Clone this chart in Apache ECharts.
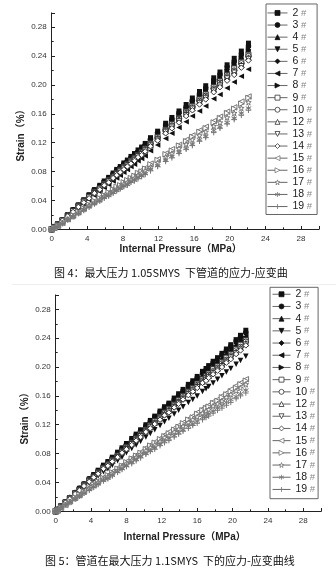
<!DOCTYPE html>
<html><head><meta charset="utf-8">
<script src="https://cdn.jsdelivr.net/npm/echarts@6/dist/echarts.min.js"></script>
<style>html,body{margin:0;padding:0;background:#fff}#c{width:336px;height:571px}</style>
</head><body><div id="c"></div>
<script>
// ---------- data ----------
const seriesNames = ['2#','3#','4#','5#','6#','7#','8#','9#','10#','12#','13#','14#','15#','16#','17#','18#','19#'];
const xTickLabels = [0,4,8,12,16,20,24,28];
const yTickLabels = ['0.00','0.04','0.08','0.12','0.16','0.20','0.24','0.28'];

// Figure 4: internal pressure (MPa)
const pressure1 = [0,0.3,0.7,1.2,1.8,2.4,3.0,3.6,4.2,4.8,5.4,5.9,6.4,6.9,7.3,7.7,8.1,8.5,8.9,9.3,9.7,10.1,10.5,11.1,11.9,12.8,13.5,14.3,15.1,15.8,16.6,17.3,18.2,18.9,19.7,20.5,21.3,22.1];
// Figure 4: strain, in thousandths of a percent
const f4_2  = [0,3,7,13,20,27,34,41,48,55,61,67,72,78,83,87,92,96,101,105,110,114,119,127,136,147,155,164,173,182,191,199,210,218,228,237,247,258];
const f4_3  = [0,3,7,13,20,27,33,40,47,54,60,66,71,77,82,86,91,95,99,103,108,112,117,125,134,145,153,162,170,179,188,196,207,215,225,233,243,254];
const f4_4  = [0,3,7,13,19,26,33,40,47,53,59,65,70,76,80,84,89,93,98,102,107,111,115,123,132,143,150,159,168,177,185,193,204,211,221,230,240,250];
const f4_5  = [0,3,7,12,19,26,32,39,46,53,58,64,69,74,79,83,88,92,96,100,105,109,114,121,130,140,148,157,165,174,182,190,201,208,218,226,236,246];
const f4_6  = [0,3,7,13,20,26,33,40,47,54,59,65,70,76,81,85,90,94,98,102,107,111,116,124,133,143,151,160,169,177,186,194,205,213,222,231,241,252];
const f4_7  = [0,3,6,11,17,23,29,35,41,47,52,58,62,67,71,75,79,83,87,90,95,98,102,109,117,126,133,141,149,157,164,171,181,187,196,204,212,222];
const f4_8  = [0,3,7,12,19,26,33,39,46,53,59,64,69,75,80,84,88,92,97,101,106,109,114,122,131,141,149,157,166,175,183,191,202,209,219,228,237,248];
const f4_9  = [0,3,7,12,19,25,32,39,45,52,57,63,68,73,78,82,86,90,95,99,103,107,112,119,128,138,146,154,163,171,180,187,197,205,214,223,232,242];
const f4_10 = [0,3,6,12,19,25,32,38,45,51,57,62,67,73,77,81,86,89,94,98,102,106,111,118,126,137,144,153,161,169,178,185,195,203,212,220,230,240];
const f4_12 = [0,3,6,12,18,25,31,38,44,51,56,62,67,72,77,80,85,89,93,97,102,105,110,117,126,136,143,152,160,168,177,184,194,202,211,219,228,238];
const f4_13 = [0,3,6,12,18,25,31,38,44,50,56,61,66,71,76,80,84,88,92,96,101,104,109,116,124,135,142,150,158,167,175,182,192,199,209,217,226,236];
const f4_14 = [0,3,6,12,18,24,31,37,43,50,55,61,65,71,75,79,83,87,91,95,100,103,108,115,123,133,140,148,157,165,173,180,190,197,206,214,224,234];
const f4_15 = [0,2,5,9,14,19,24,29,34,39,44,48,51,56,59,62,66,69,72,75,79,82,85,91,97,105,111,117,124,130,137,142,150,156,163,169,177,184];
const f4_16 = [0,2,5,9,14,19,24,29,34,39,43,47,51,55,59,61,65,68,71,74,78,80,84,90,96,104,109,116,122,128,135,140,148,154,161,167,174,182];
const f4_17 = [0,2,5,9,14,18,23,28,33,37,41,46,49,53,56,59,63,65,69,71,75,78,81,86,92,100,105,112,118,124,130,135,143,148,155,161,168,176];
const f4_18 = [0,2,5,8,13,18,22,27,31,36,40,44,47,51,54,57,60,62,66,68,72,74,77,83,88,96,101,107,112,118,124,129,137,142,148,154,161,168];
const f4_19 = [0,2,4,8,13,17,22,26,31,35,39,43,46,50,53,56,59,61,65,67,70,73,76,81,87,94,99,105,111,116,122,127,134,140,146,152,158,165];

// Figure 5: internal pressure (MPa)
const pressure2 = [0,0.2,0.6,1.1,1.6,2.2,2.7,3.2,3.8,4.3,4.8,5.4,5.9,6.4,7.0,7.5,8.0,8.6,9.1,9.6,10.2,10.7,11.2,11.8,12.3,12.8,13.4,13.9,14.4,15.0,15.5,16.0,16.6,17.0,17.3,17.8,18.3,18.8,19.3,19.8,20.4,20.9,21.5];
// Figure 5: strain, in thousandths of a percent
const f5_2  = [0,2,7,13,19,26,32,38,45,51,57,64,69,75,82,88,94,101,107,113,120,126,132,139,145,150,157,163,169,176,181,187,194,198,202,208,213,219,225,231,238,244,251];
const f5_3  = [0,2,7,13,19,26,32,38,45,50,56,63,68,74,81,87,93,100,106,112,119,125,131,138,144,149,155,161,167,174,179,185,192,196,200,206,211,217,223,229,236,242,248];
const f5_4  = [0,2,7,13,18,25,31,37,44,49,55,62,67,73,80,85,91,98,104,110,116,122,128,135,141,146,152,158,164,171,176,181,188,192,196,202,207,212,218,224,231,237,243];
const f5_5  = [0,2,6,11,16,22,27,33,39,44,49,55,59,64,70,75,81,87,92,97,103,108,113,119,124,129,135,140,145,151,155,160,166,170,173,178,183,188,193,198,204,209,215];
const f5_6  = [0,2,7,13,19,25,31,37,44,50,56,63,68,74,80,86,92,99,105,111,118,123,129,136,142,147,154,160,166,172,177,183,190,194,198,204,209,215,221,226,233,239,246];
const f5_7  = [0,2,7,13,18,25,31,37,43,49,55,62,67,72,79,85,91,97,103,109,116,122,127,134,140,145,152,157,163,170,175,180,187,191,195,201,206,211,217,223,230,235,242];
const f5_8  = [0,2,7,12,18,25,31,36,43,49,54,61,66,72,78,84,90,96,102,108,115,120,126,133,138,143,150,156,161,168,173,179,185,189,193,199,203,209,215,221,227,233,240];
const f5_9  = [0,2,7,12,18,25,30,36,43,48,54,60,65,71,77,83,89,95,101,107,113,119,125,131,137,142,148,154,160,166,171,177,183,187,191,197,201,207,213,218,225,231,237];
const f5_10 = [0,2,7,12,18,24,30,36,42,48,53,60,65,70,77,82,88,94,100,106,112,118,123,130,136,140,147,152,158,165,169,175,181,185,189,194,199,205,210,216,223,228,235];
const f5_12 = [0,2,7,12,18,24,30,35,42,47,53,60,64,70,76,82,87,94,100,105,112,117,123,129,135,140,146,152,157,164,168,174,180,184,188,193,198,204,209,215,221,227,233];
const f5_13 = [0,2,6,12,17,24,29,35,41,47,52,59,63,69,75,81,86,93,98,104,110,116,121,128,133,138,144,150,155,162,167,172,178,182,186,191,196,201,207,213,219,224,231];
const f5_14 = [0,2,6,12,17,24,29,35,41,47,52,59,63,69,75,81,86,92,98,103,110,115,121,127,133,137,144,149,155,161,166,171,178,181,185,190,195,200,206,211,218,223,230];
const f5_15 = [0,1,5,9,14,19,23,28,33,37,42,47,50,55,60,64,69,74,78,82,88,92,96,101,106,110,115,119,123,128,132,137,142,145,147,152,155,160,164,169,174,178,183];
const f5_16 = [0,1,5,9,14,19,23,27,32,37,41,46,50,54,59,63,68,73,77,81,86,91,95,100,104,108,113,117,122,127,130,135,140,143,145,150,153,158,162,166,171,176,181];
const f5_17 = [0,1,5,9,13,18,22,27,32,36,40,45,48,53,57,62,66,71,75,79,84,88,92,97,102,105,110,114,118,123,127,131,136,139,141,146,149,153,158,162,167,171,176];
const f5_18 = [0,1,5,9,13,17,21,25,30,34,38,43,46,50,55,59,63,68,72,76,80,84,88,93,97,101,105,109,113,118,121,125,130,133,135,139,143,147,151,155,159,163,168];
const f5_19 = [0,1,5,9,12,17,21,25,29,33,37,42,45,49,54,58,62,66,70,74,79,83,86,91,95,98,103,107,111,115,119,122,127,130,132,136,140,143,147,151,156,160,164];

const fig4Strain = [f4_2,f4_3,f4_4,f4_5,f4_6,f4_7,f4_8,f4_9,f4_10,f4_12,f4_13,f4_14,f4_15,f4_16,f4_17,f4_18,f4_19];
const fig5Strain = [f5_2,f5_3,f5_4,f5_5,f5_6,f5_7,f5_8,f5_9,f5_10,f5_12,f5_13,f5_14,f5_15,f5_16,f5_17,f5_18,f5_19];

// ---------- styles ----------
const STAR = 'path://M50,2L61,36L97,36L68,57L79,92L50,71L21,92L32,57L3,36L39,36Z';
const AST = 'path://M50,0L50,100M7,25L93,75M93,25L7,75';
const PLUS = 'path://M50,0L50,100M0,50L100,50';
const K = '#111', D = '#333', G = '#777', W = '#fff', T = 'rgba(0,0,0,0)';
const markerStyles = [
  ['rect',0,K,null],['circle',0,K,null],['triangle',0,K,null],['triangle',180,K,null],
  ['diamond',0,K,null],['triangle',90,K,null],['triangle',-90,K,null],
  ['rect',0,W,D],['circle',0,W,D],['triangle',0,W,D],['triangle',180,W,D],['diamond',0,W,D],
  ['triangle',90,W,G],['triangle',-90,W,G],[STAR,0,W,G],[AST,0,T,G],[PLUS,0,T,G]
];
const FONT = '"Liberation Sans", Arial, "Noto Sans CJK SC", sans-serif';

function buildSeries(g, P, S) {
  return seriesNames.map((n, i) => {
    const st = markerStyles[i];
    return {
      type: 'line', name: n, xAxisIndex: g * 2, yAxisIndex: g * 2,
      data: P.map((p, j) => [p, S[i][j] / 1000]),
      symbol: st[0], symbolRotate: st[1], symbolSize: st[0] === 'rect' ? 5 : 5.5,
      showSymbol: true, lineStyle: { opacity: 0 },
      itemStyle: { color: st[2], borderColor: st[3] || st[2], borderWidth: st[3] ? 1 : 0 },
      emphasis: { disabled: true }, silent: true, animation: false
    };
  });
}

function axesFor(g) {
  const tickLine = { color: '#222', width: 1 };
  return {
    x: [
      { gridIndex: g, type: 'value', position: 'bottom', min: 0, max: 30, interval: 4,
        axisLine: { show: true, lineStyle: tickLine },
        axisTick: { inside: true, length: 3.3, lineStyle: tickLine },
        splitLine: { show: false },
        axisLabel: { margin: 5, fontSize: 8, color: '#333', fontFamily: FONT,
          formatter: v => xTickLabels.includes(v) ? String(v) : '' } },
      { gridIndex: g, type: 'value', position: 'bottom', min: 0, max: 30, interval: 2,
        axisLine: { show: false }, axisTick: { inside: true, length: 2, lineStyle: tickLine },
        axisLabel: { show: false }, splitLine: { show: false } }
    ],
    y: [
      { gridIndex: g, type: 'value', position: 'left', min: 0, max: 0.30, interval: 0.04,
        axisLine: { show: true, lineStyle: tickLine },
        axisTick: { inside: true, length: 3.3, lineStyle: tickLine },
        splitLine: { show: false },
        axisLabel: { margin: 5, fontSize: 8, color: '#333', fontFamily: FONT,
          formatter: v => { const s = v.toFixed(2); return yTickLabels.includes(s) ? s : ''; } } },
      { gridIndex: g, type: 'value', position: 'left', min: 0, max: 0.30, interval: 0.02,
        axisLine: { show: false }, axisTick: { inside: true, length: 2, lineStyle: tickLine },
        axisLabel: { show: false }, splitLine: { show: false } }
    ]
  };
}

function legendFor(left, top, pad, itemWidth, gap) {
  return {
    data: seriesNames, orient: 'vertical', left: left, top: top, padding: pad,
    itemWidth: itemWidth, itemHeight: 6.2, itemGap: gap, selectedMode: false,
    borderColor: '#666', borderWidth: 1, backgroundColor: '#fff',
    lineStyle: { color: '#666', width: 1, opacity: 1 },
    itemStyle: { borderWidth: 0.8 },
    formatter: n => '{n|' + n.replace('#', '') + '}{h| #}',
    textStyle: { fontFamily: FONT, fontSize: 10.5, lineHeight: 10, color: '#222',
      rich: { n: { fontSize: 10.5, lineHeight: 10, color: '#222', fontFamily: FONT },
              h: { fontSize: 9.5, lineHeight: 10, color: '#888', fontFamily: FONT } } }
  };
}

const a1 = axesFor(0), a2 = axesFor(1);
const nameFont = 'bold 10px ' + FONT;
const capFont = '11px "Noto Sans CJK SC", sans-serif';

const chart = echarts.init(document.getElementById('c'), null, { renderer: 'canvas' });
chart.setOption({
  animation: false,
  textStyle: { fontFamily: FONT },
  grid: [
    { left: 51.7, top: 12.85, width: 267.1, height: 216.45 },
    { left: 55.7, top: 294.9, width: 265.3, height: 216.4 }
  ],
  xAxis: a1.x.concat(a2.x),
  yAxis: a1.y.concat(a2.y),
  legend: [
    legendFor(266, 4, [3.7, 5, 2.7, 1], 20, 1.6),
    legendFor(270, 287.3, [1.7, 3, 4, 2], 18, 1.7)
  ],
  series: buildSeries(0, pressure1, fig4Strain).concat(buildSeries(1, pressure2, fig5Strain)),
  graphic: [
    { type: 'text', x: 21.7, y: 133, rotation: Math.PI / 2,
      style: { text: 'Strain（%）', font: nameFont, fill: '#222', align: 'center', verticalAlign: 'middle' } },
    { type: 'text', x: 180.7, y: 249,
      style: { text: 'Internal Pressure（MPa）', font: nameFont, fill: '#222', align: 'center', verticalAlign: 'middle' } },
    { type: 'text', x: 54, y: 272.7,
      style: { text: '图 4：最大压力 1.05SMYS  下管道的应力-应变曲', font: capFont, fill: '#111', align: 'left', verticalAlign: 'middle' } },
    { type: 'line', shape: { x1: 12, y1: 284.5, x2: 336, y2: 284.5 }, style: { stroke: '#eee', lineWidth: 1 } },
    { type: 'text', x: 25, y: 416, rotation: Math.PI / 2,
      style: { text: 'Strain（%）', font: nameFont, fill: '#222', align: 'center', verticalAlign: 'middle' } },
    { type: 'text', x: 184.7, y: 537.7,
      style: { text: 'Internal Pressure（MPa）', font: nameFont, fill: '#222', align: 'center', verticalAlign: 'middle' } },
    { type: 'text', x: 45, y: 561,
      style: { text: '图 5：管道在最大压力 1.1SMYS  下的应力-应变曲线', font: capFont, fill: '#111', align: 'left', verticalAlign: 'middle' } }
  ]
});
</script></body></html>
